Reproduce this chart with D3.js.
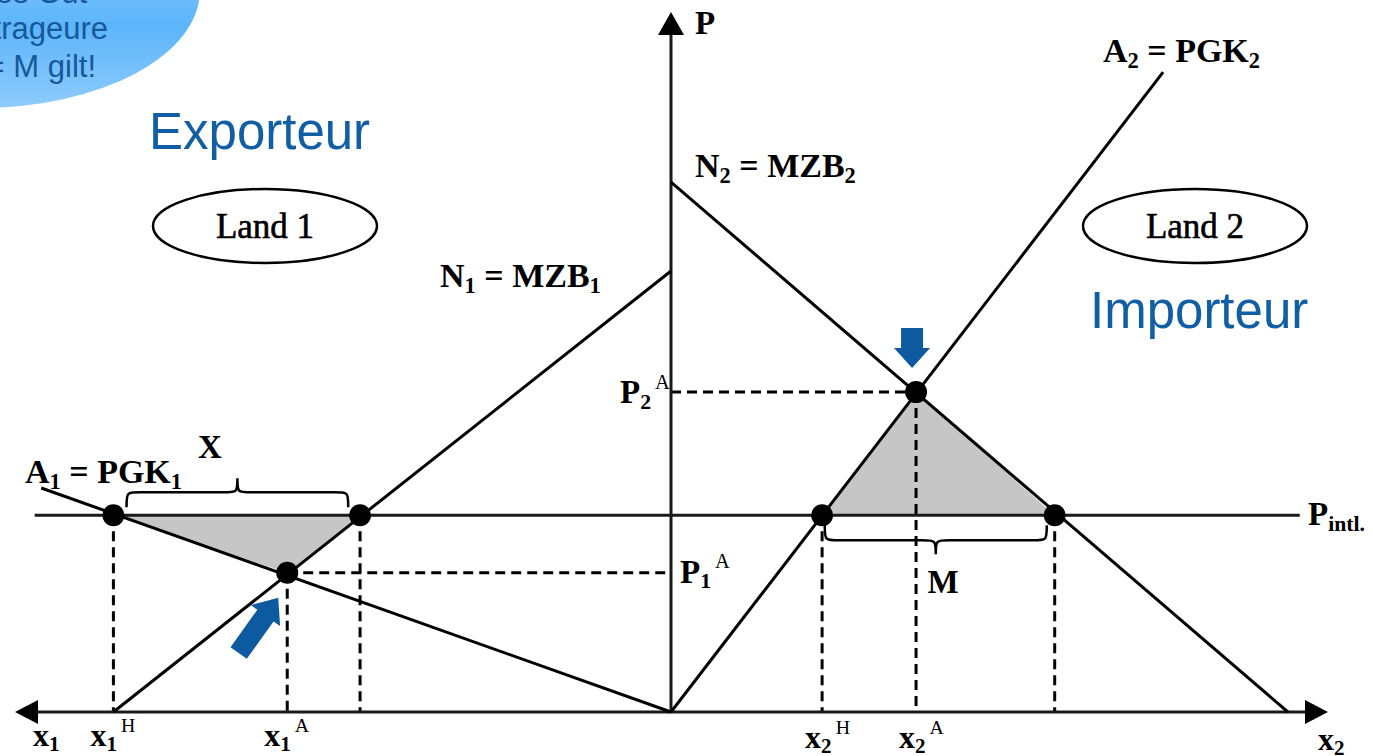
<!DOCTYPE html>
<html>
<head>
<meta charset="utf-8">
<script src="https://cdn.jsdelivr.net/npm/d3@7"></script>
<style>
  body { margin: 0; background: #fff; }
  svg { display: block; }
</style>
</head>
<body>
<svg id="chart" width="1373" height="756"></svg>
<script>
// quantities (0-100) along each x axis, prices (0-100) on P axis
var pIntl = 28.1;
var pAut = [19.9, 45.7];          // P1^A, P2^A
var qAut = [58.5, 37.3];          // x1^A, x2^A
var qHome = [85, 23];             // x1^H, x2^H
var qTrade = [47.4, 58.4];        // other end of X and M
var supply1 = [[0, 0], [96, 32]];
var demand1 = [[0, 63], [85, 0]];
var supply2 = [[0, 0], [74.9, 91.4]];
var demand2 = [[0, 75.7], [93.9, 0]];
var intlSpan = [97, 95.7];        // P_intl line reaches these quantities
var tickLabels1 = [{q: 85, sup: "H"}, {q: 58.5, sup: "A"}];
var tickLabels2 = [{q: 23, sup: "H"}, {q: 37.3, sup: "A"}];

var svg = d3.select("#chart");
var x1 = d3.scaleLinear().domain([0, 100]).range([671, 15]);
var x2 = d3.scaleLinear().domain([0, 100]).range([671, 1328]);
var y = d3.scaleLinear().domain([0, 100]).range([712, 12]);
var x0 = x1(0), y0 = y(0);

var serif = "'Liberation Serif', 'Times New Roman', serif";
var sans = "'Liberation Sans', Arial, sans-serif";
var blue = "#0d5aa0";

var defs = svg.append("defs");
var grad = defs.append("linearGradient").attr("id", "bubble")
  .attr("x1", 0).attr("y1", 0).attr("x2", 0).attr("y2", 1);
grad.append("stop").attr("offset", "0%").attr("stop-color", "#b4dcff");
grad.append("stop").attr("offset", "65%").attr("stop-color", "#5cb5fb");
grad.append("stop").attr("offset", "100%").attr("stop-color", "#8ecbfc");

// bubble top left
svg.append("ellipse")
  .attr("cx", -20).attr("cy", -10).attr("rx", 220).attr("ry", 118)
  .attr("fill", "url(#bubble)");
var bubbleText = ["homogenes Gut", "Arbitrageure", "X = M gilt!"];
var bubbleY = [3, 39, 77];
var bubbleEnd = [87, 108, 96];
svg.selectAll(".btxt").data(bubbleText).enter().append("text")
  .attr("class", "btxt")
  .attr("x", function(d, i) { return bubbleEnd[i]; })
  .attr("y", function(d, i) { return bubbleY[i]; })
  .attr("text-anchor", "end")
  .attr("font-family", sans).attr("font-size", 31)
  .attr("fill", "#17589a")
  .text(function(d) { return d; });

// shaded areas
var tri1 = [[qHome[0], pIntl], [qTrade[0], pIntl], [qAut[0], pAut[0]]];
var tri2 = [[qHome[1], pIntl], [qTrade[1], pIntl], [qAut[1], pAut[1]]];
svg.append("path")
  .attr("d", d3.line().x(function(d) { return x1(d[0]); }).y(function(d) { return y(d[1]); })(tri1) + "Z")
  .attr("fill", "#c6c6c6");
svg.append("path")
  .attr("d", d3.line().x(function(d) { return x2(d[0]); }).y(function(d) { return y(d[1]); })(tri2) + "Z")
  .attr("fill", "#c6c6c6");

// dashed guides
var dash = svg.append("g").attr("stroke", "#000").attr("stroke-width", 3)
  .attr("stroke-dasharray", "10,6").attr("fill", "none");
[[qHome[0], pIntl], [qAut[0], pAut[0]], [qTrade[0], pIntl]].forEach(function(d) {
  dash.append("line").attr("x1", x1(d[0])).attr("x2", x1(d[0]))
    .attr("y1", y(d[1])).attr("y2", y0);
});
[[qHome[1], pIntl], [qAut[1], pAut[1]], [qTrade[1], pIntl]].forEach(function(d) {
  dash.append("line").attr("x1", x2(d[0])).attr("x2", x2(d[0]))
    .attr("y1", y(d[1])).attr("y2", y0);
});
dash.append("line").attr("x1", x1(qAut[0])).attr("x2", x0)
  .attr("y1", y(pAut[0])).attr("y2", y(pAut[0]));
dash.append("line").attr("x1", x0).attr("x2", x2(qAut[1]))
  .attr("y1", y(pAut[1])).attr("y2", y(pAut[1]));

// axes
var axes = svg.append("g").attr("stroke", "#1a1a1a").attr("stroke-width", 3);
axes.append("line").attr("x1", x1(96.5)).attr("x2", x2(96.5)).attr("y1", y0).attr("y2", y0);
axes.append("line").attr("x1", x0).attr("x2", x0).attr("y1", y0).attr("y2", y(96.7));
axes.append("line").attr("x1", x1(intlSpan[0])).attr("x2", x2(intlSpan[1]))
  .attr("y1", y(pIntl)).attr("y2", y(pIntl));
var heads = svg.append("g").attr("fill", "#000");
heads.append("path").attr("d", "M" + x1(100) + "," + y0 + "l23,-12v24z");
heads.append("path").attr("d", "M" + x2(100) + "," + y0 + "l-23,-12v24z");
heads.append("path").attr("d", "M" + x0 + "," + y(100) + "l-13,23h26z");

// curves
var line1 = d3.line().x(function(d) { return x1(d[0]); }).y(function(d) { return y(d[1]); });
var line2 = d3.line().x(function(d) { return x2(d[0]); }).y(function(d) { return y(d[1]); });
var curves = svg.append("g").attr("stroke", "#000").attr("stroke-width", 3).attr("fill", "none");
curves.append("path").attr("d", line1(supply1));
curves.append("path").attr("d", line1(demand1));
curves.append("path").attr("d", line2(supply2));
curves.append("path").attr("d", line2(demand2));

// dots
var dots = tri1.map(function(d) { return [x1(d[0]), y(d[1])]; })
  .concat(tri2.map(function(d) { return [x2(d[0]), y(d[1])]; }));
svg.selectAll(".dot").data(dots).enter().append("circle")
  .attr("class", "dot")
  .attr("cx", function(d) { return d[0]; })
  .attr("cy", function(d) { return d[1]; })
  .attr("r", 11).attr("fill", "#000");

// braces
function brace(a, b, yb, dir) {
  var y1 = yb + dir * 15, y2 = yb + dir * 29, m = (a + b) / 2, r = 14;
  return "M" + a + "," + yb + "C" + a + "," + y1 + " " + a + "," + y1 + " " + (a + r) + "," + y1 +
    "L" + (m - r) + "," + y1 + "C" + m + "," + y1 + " " + m + "," + y1 + " " + m + "," + y2 +
    "C" + m + "," + y1 + " " + m + "," + y1 + " " + (m + r) + "," + y1 +
    "L" + (b - r) + "," + y1 + "C" + b + "," + y1 + " " + b + "," + y1 + " " + b + "," + yb;
}
svg.append("path").attr("d", brace(x1(83), x1(49.2), y(pIntl) - 8, -1))
  .attr("fill", "none").attr("stroke", "#000").attr("stroke-width", 2.5);
svg.append("path").attr("d", brace(x2(23.4), x2(57.2), y(pIntl) + 10, 1))
  .attr("fill", "none").attr("stroke", "#000").attr("stroke-width", 2.5);

// blue arrows
function blockArrow(tx, ty, angle, len, shaftW, headW, headL) {
  var pts = [[0, 0], [-headL, headW / 2], [-headL, shaftW / 2], [-len, shaftW / 2],
    [-len, -shaftW / 2], [-headL, -shaftW / 2], [-headL, -headW / 2]];
  svg.append("polygon")
    .attr("points", pts.map(function(p) { return p.join(","); }).join(" "))
    .attr("transform", "translate(" + tx + "," + ty + ") rotate(" + angle + ")")
    .attr("fill", blue);
}
blockArrow(x2(qAut[1]) - 4, y(pAut[1]) - 24, 90, 40, 22, 36, 20);
blockArrow(x1(qAut[0]) - 9, y(pAut[0]) + 25, -54.4, 68, 20, 36, 22);

// rich labels
function rich(x, yy, parts, size, anchor) {
  var t = svg.append("text").attr("x", x).attr("y", yy)
    .attr("font-family", serif).attr("font-size", size).attr("font-weight", "bold")
    .attr("text-anchor", anchor || "start").attr("fill", "#000");
  var off = 0;
  parts.forEach(function(p) {
    var kind = p[1] || "";
    var target = kind === "sub" ? 0.17 * size : kind === "sup" ? -0.44 * size : 0;
    t.append("tspan")
      .attr("dy", target - off)
      .attr("dx", kind === "sup" ? 4 : 0)
      .attr("font-size", kind === "" ? size : kind === "sub" ? size * 0.66 : size * 0.62)
      .attr("font-weight", kind === "sup" ? "normal" : "bold")
      .text(p[0]);
    off = target;
  });
  return t;
}

rich(x0 + 24, 34, [["P"]], 33);
rich(1308, y(pIntl) + 10, [["P"], ["intl.", "sub"]], 33);
rich(1103, 62, [["A"], ["2", "sub"], [" = PGK"], ["2", "sub"]], 34);
rich(x0 + 24, 177, [["N"], ["2", "sub"], [" = MZB"], ["2", "sub"]], 34);
rich(440, 287, [["N"], ["1", "sub"], [" = MZB"], ["1", "sub"]], 34);
rich(25, 483, [["A"], ["1", "sub"], [" = PGK"], ["1", "sub"]], 34);
rich(x1(70.3), 458, [["X"]], 33, "middle");
rich(x2(41.4), 593, [["M"]], 33, "middle");
rich(x0 - 51, y(pAut[1]) + 11, [["P"], ["2", "sub"], ["A", "sup"]], 33);
rich(x0 + 9, y(pAut[0]) + 10, [["P"], ["1", "sub"], ["A", "sup"]], 33);

rich(x1(100) + 18, 746, [["x"], ["1", "sub"]], 32);
rich(x2(100) - 10, 750, [["x"], ["2", "sub"]], 32);
tickLabels1.forEach(function(d) {
  rich(x1(d.q) - 23, 746, [["x"], ["1", "sub"], [d.sup, "sup"]], 32);
});
tickLabels2.forEach(function(d) {
  rich(x2(d.q) - 17, 748, [["x"], ["2", "sub"], [d.sup, "sup"]], 32);
});

// country ellipses
[[265, "Land 1"], [1195, "Land 2"]].forEach(function(d) {
  svg.append("ellipse").attr("cx", d[0]).attr("cy", 226).attr("rx", 112).attr("ry", 37)
    .attr("fill", "none").attr("stroke", "#000").attr("stroke-width", 2.5);
  svg.append("text").attr("x", d[0]).attr("y", 238).attr("text-anchor", "middle")
    .attr("font-family", serif).attr("font-size", 35)
    .attr("stroke", "#000").attr("stroke-width", 0.6)
    .text(d[1]);
});

svg.append("text").attr("x", 149).attr("y", 149)
  .attr("font-family", sans).attr("font-size", 51).attr("fill", "#105ea5")
  .text("Exporteur");
svg.append("text").attr("x", 1090).attr("y", 328)
  .attr("font-family", sans).attr("font-size", 51).attr("fill", "#105ea5")
  .text("Importeur");
</script>
</body>
</html>
